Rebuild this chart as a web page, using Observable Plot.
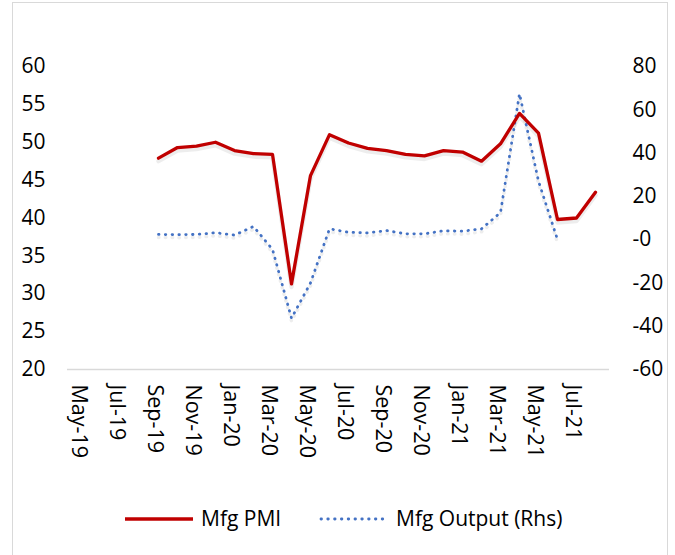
<!DOCTYPE html>
<html><head><meta charset="utf-8">
<script src="https://cdn.jsdelivr.net/npm/d3@7"></script>
<script src="https://cdn.jsdelivr.net/npm/@observablehq/plot@0.6"></script>
<style>
body{margin:0;background:#fff;}
#wrap{position:relative;width:675px;height:555px;overflow:hidden;font-family:"Open Sans",sans-serif;color:#000;}
#frame{position:absolute;left:12px;top:2px;width:656px;height:600px;border:1.5px solid #d9d9d9;box-sizing:border-box;pointer-events:none;}
#chart{position:absolute;left:0;top:0;}
.leg{position:absolute;font-size:21px;line-height:24px;white-space:nowrap;}
</style></head>
<body>
<div id="wrap">
  <div id="frame"></div>
  <div id="chart"></div>
  <div id="legend"></div>
</div>
<script>
// ---- data ----
const months = ["May-19","Jun-19","Jul-19","Aug-19","Sep-19","Oct-19","Nov-19","Dec-19",
  "Jan-20","Feb-20","Mar-20","Apr-20","May-20","Jun-20","Jul-20","Aug-20","Sep-20","Oct-20","Nov-20","Dec-20",
  "Jan-21","Feb-21","Mar-21","Apr-21","May-21","Jun-21","Jul-21","Aug-21"];
const pmi = [null,null,null,null,47.9,49.3,49.5,50.0,
  48.9,48.5,48.4,31.3,45.6,51.0,49.9,49.2,48.9,48.4,48.2,48.9,
  48.7,47.5,49.8,53.8,51.2,39.8,40.0,43.4];
const output = [null,null,null,null,2.4,2.3,2.4,3.2,
  2.1,6.1,-4.5,-36.3,-20.0,5.0,3.4,3.1,4.2,2.7,2.7,4.1,
  3.9,5.0,12.5,67.4,27.0,0.0,null,null];
const tickLabels = ["May-19","Jul-19","Sep-19","Nov-19","Jan-20","Mar-20","May-20",
  "Jul-20","Sep-20","Nov-20","Jan-21","Mar-21","May-21","Jul-21"];
const leftTicks = [20,25,30,35,40,45,50,55,60];
const rightTicks = [-60,-40,-20,0,20,40,60,80];
const seriesNames = ["Mfg PMI","Mfg Output (Rhs)"];
const colors = ["#C00000","#4472C4"];

// map right-axis values onto the left-axis scale
const toLeft = r => 20 + (r + 60) * 40 / 140;
const fromLeft = l => Math.round((l - 20) * 140 / 40 - 60);

const rows = months.map((m, i) => ({month: m, pmi: pmi[i], out: output[i] == null ? null : toLeft(output[i])}));
const pmiRows = rows.filter(d => d.pmi != null);
const outRows = rows.filter(d => d.out != null);

const chart = Plot.plot({
  width: 675, height: 555,
  marginLeft: 67, marginRight: 66, marginTop: 66, marginBottom: 186,
  style: {fontFamily: "'Open Sans', sans-serif", fontSize: "21px", color: "#000", background: "transparent", overflow: "visible"},
  x: {type: "point", domain: months, padding: 0.5},
  y: {domain: [20, 60]},
  marks: [
    Plot.ruleY([20], {stroke: "#d9d9d9", strokeWidth: 1.5}),
    Plot.axisY(leftTicks, {anchor: "left", tickSize: 0, tickPadding: 22, label: null}),
    Plot.axisY(rightTicks.map(toLeft), {anchor: "right", tickSize: 0, tickPadding: 23, tickFormat: fromLeft, label: null}),
    Plot.axisX(tickLabels, {anchor: "bottom", tickSize: 0, tickPadding: 15, tickRotate: 90, dx: -4, fontSize: 21.5, label: null}),
    // soft shadows
    Plot.line(outRows, {x: "month", y: "out", dy: 3, stroke: "#000", strokeOpacity: 0.07, strokeWidth: 3.5, strokeDasharray: "0.5 6.3", strokeLinecap: "round"}),
    Plot.line(pmiRows, {x: "month", y: "pmi", dy: 3, stroke: "#000", strokeOpacity: 0.07, strokeWidth: 4.5}),
    Plot.line(outRows, {x: "month", y: "out", stroke: colors[1], strokeWidth: 2.8, strokeDasharray: "0.5 6.3", strokeLinecap: "round"}),
    Plot.line(pmiRows, {x: "month", y: "pmi", stroke: colors[0], strokeWidth: 3.3})
  ]
});
document.getElementById("chart").appendChild(chart);

// legend
const legend = document.getElementById("legend");
legend.innerHTML = `
  <svg style="position:absolute;left:0;top:0" width="675" height="555">
    <line x1="125" x2="193" y1="519" y2="519" stroke="${colors[0]}" stroke-width="3.3"/>
    <line x1="321" x2="385" y1="519" y2="519" stroke="${colors[1]}" stroke-width="2.8" stroke-dasharray="0.5 6.3" stroke-linecap="round"/>
  </svg>
  <div class="leg" style="left:201px;top:506px">${seriesNames[0]}</div>
  <div class="leg" style="left:396px;top:506px">${seriesNames[1]}</div>`;
</script>
</body></html>
